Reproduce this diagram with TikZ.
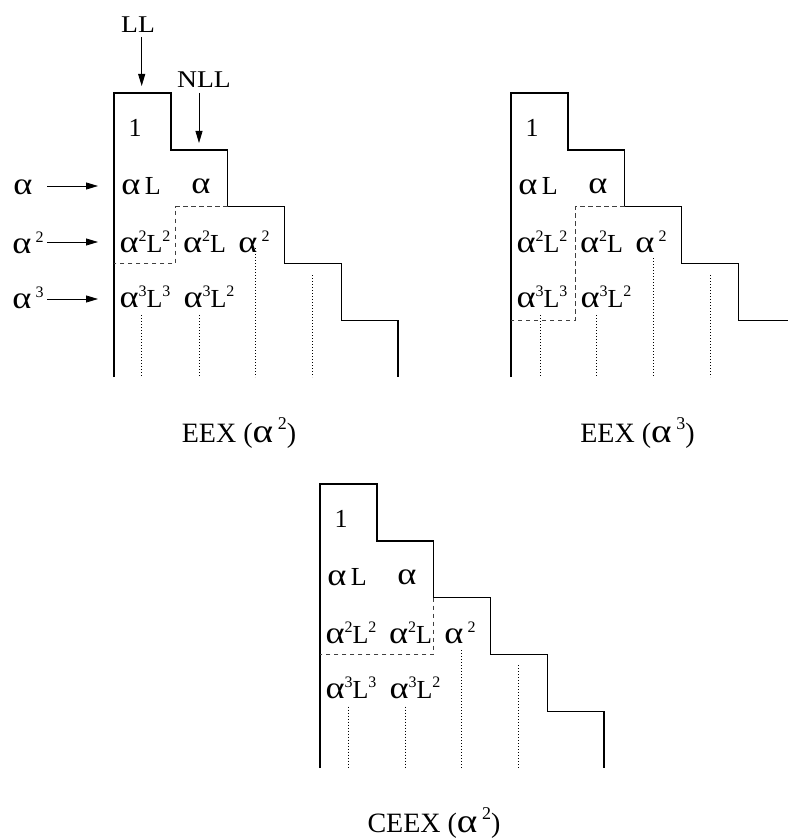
\documentclass[tikz,border=0pt]{standalone}
\usepackage{fontspec}
\usepackage{graphicx}
\setmainfont{Liberation Serif}
\newfontfamily\widefont[FakeStretch=1.15]{Liberation Serif}
\usetikzlibrary{arrows.meta}
\newcommand\al{\scalebox{1.4}[1.2]{α}}
\newcommand\mysup[1]{\raisebox{0.42em}{\fontsize{16}{16}\selectfont #1}}
\newcommand\capsup[1]{\raisebox{0.45em}{\fontsize{18}{18}\selectfont #1}}
\tikzset{
  lbl/.style={inner sep=0pt, font=\fontsize{26}{30}\selectfont},
  toplbl/.style={inner sep=0pt, font=\widefont\fontsize{24}{28}\selectfont},
  captxt/.style={inner sep=0pt, font=\fontsize{28}{32}\selectfont},
  outline/.style={line width=1.4pt, line join=miter},
  dashline/.style={line width=0.8pt, draw=black!75, dash pattern=on 4.5pt off 3.5pt},
  dotline/.style={line width=0.8pt, dash pattern=on 0.8pt off 2.2pt},
  arr/.style={line width=0.8pt, -{Triangle[length=12pt,width=7pt]}},
}
\newcommand\cells{%
  \node[lbl] (c1) at (21,35) {1};
  \node[lbl] (caL) at (27,93.5) {\al\,L};
  \node[lbl] (ca) at (87,93.5) {\al};
  \node[lbl] (caaLL) at (31,149) {\al\mysup{2}L\mysup{2}};
  \node[lbl] (caaL) at (90.5,149) {\al\mysup{2}L};
  \node[lbl] (caa) at (140,149) {\al\,\mysup{2}};
  \node[lbl] (cacLc) at (31,204) {\al\mysup{3}L\mysup{3}};
  \node[lbl] (cacLL) at (95,204) {\al\mysup{3}L\mysup{2}};
}
\begin{document}
\begin{tikzpicture}[x=1pt,y=-1pt]
\useasboundingbox (0,0) rectangle (788,840);

% ---------- Panel 1 ----------
\begin{scope}[shift={(114,93)}]
  \draw[outline] (0,284) -- (0,0) -- (56.8,0) -- (56.8,56.8) -- (113.6,56.8) -- (113.6,113.6) -- (170.4,113.6) -- (170.4,170.4) -- (227.2,170.4) -- (227.2,227.2) -- (284,227.2) -- (284,284);
  \draw[dashline] (113.6,113.6) -- (61.7,113.6) -- (61.7,170.4) -- (0,170.4);
  \draw[dotline] (27.7,222) -- (27.7,284);
  \draw[dotline] (85,222) -- (85,284);
  \draw[dotline] (141.7,155) -- (141.7,284);
  \draw[dotline] (198.3,182) -- (198.3,284);
  \cells
\end{scope}

\node[toplbl] (LL) at (138,25) {LL};
\coordinate (LLend) at (141.7,86);
\draw[arr] (141.7,37) -- (LLend);
\node[toplbl] (NLL) at (204,80) {NLL};
\coordinate (NLLend) at (199,143);
\draw[arr] (199,93) -- (NLLend);

\node[lbl] (r1) at (23,187) {\al};
\node[lbl] (r2) at (28,243) {\al\,\mysup{2}};
\node[lbl] (r3) at (28,298) {\al\,\mysup{3}};
\coordinate (r1s) at (47,186); \coordinate (r1e) at (98,186);
\coordinate (r2s) at (47,242); \coordinate (r2e) at (98,242);
\coordinate (r3s) at (47,299); \coordinate (r3e) at (98,299);
\draw[arr] (r1s) -- (r1e);
\draw[arr] (r2s) -- (r2e);
\draw[arr] (r3s) -- (r3e);

\node[captxt] (cap1) at (239,433) {EEX (\al\,\capsup{2})};

% ---------- Panel 2 ----------
\begin{scope}[shift={(511,93)}]
  \draw[outline] (0,284) -- (0,0) -- (56.8,0) -- (56.8,56.8) -- (113.6,56.8) -- (113.6,113.6) -- (170.4,113.6) -- (170.4,170.4) -- (227.2,170.4) -- (227.2,227.2) -- (277,227.2);
  \draw[dashline] (113.6,113.6) -- (64,113.6) -- (64,227.2) -- (0,227.2);
  \draw[dotline] (29,222) -- (29,284);
  \draw[dotline] (85.7,222) -- (85.7,284);
  \draw[dotline] (142.3,165) -- (142.3,284);
  \draw[dotline] (199,182) -- (199,284);
  \cells
\end{scope}
\node[captxt] (cap2) at (637.5,433) {EEX (\al\,\capsup{3})};

% ---------- Panel 3 ----------
\begin{scope}[shift={(320,484)}]
  \draw[outline] (0,284) -- (0,0) -- (56.8,0) -- (56.8,56.8) -- (113.6,56.8) -- (113.6,113.6) -- (170.4,113.6) -- (170.4,170.4) -- (227.2,170.4) -- (227.2,227.2) -- (284,227.2) -- (284,284);
  \draw[dashline] (113.6,113.6) -- (113.6,170.4) -- (0,170.4);
  \draw[dotline] (28.3,222.7) -- (28.3,284);
  \draw[dotline] (85,222.7) -- (85,284);
  \draw[dotline] (141.7,166) -- (141.7,284);
  \draw[dotline] (198.3,181) -- (198.3,284);
  \cells
\end{scope}
\node[captxt] (cap3) at (434,823) {CEEX (\al\,\capsup{2})};
\end{tikzpicture}
\end{document}
